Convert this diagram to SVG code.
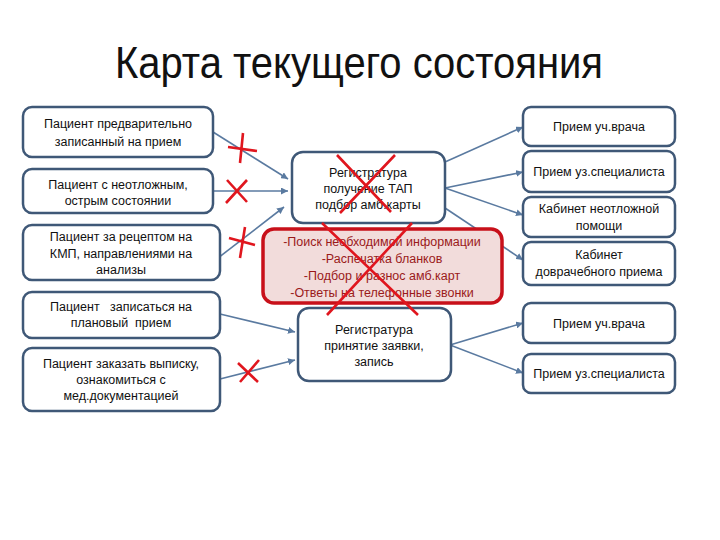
<svg xmlns="http://www.w3.org/2000/svg" width="720" height="540" viewBox="0 0 720 540">
<defs>
<style>
.box{fill:#ffffff;stroke:#3f5877;stroke-width:2.5}
.red{fill:#f2dcdb;stroke:#c8101a;stroke-width:3.5}
.t{font-family:"Liberation Sans",Arial,sans-serif;font-size:12.5px;fill:#111;text-anchor:middle}
.rt{font-family:"Liberation Sans",Arial,sans-serif;font-size:12.5px;fill:#9a1a1a;text-anchor:middle}
.c{stroke:#5a7aa0;stroke-width:1.6;fill:none;marker-end:url(#ah)}
.x{stroke:#e0161e;stroke-width:2.6;fill:none}
</style>
<marker id="ah" viewBox="0 0 10 10" refX="10" refY="5" markerWidth="7" markerHeight="7" markerUnits="userSpaceOnUse" orient="auto">
<path d="M0,0 L10,5 L0,10 z" fill="#5a7aa0"/>
</marker>
</defs>
<rect width="720" height="540" fill="#ffffff"/>
<text x="359" y="78" font-family="'Liberation Sans',Arial,sans-serif" font-size="44" text-anchor="middle" textLength="488" lengthAdjust="spacingAndGlyphs" fill="#111">Карта текущего состояния</text>

<g id="connectors">
<line class="c" x1="213" y1="132" x2="288" y2="179"/>
<line class="c" x1="213" y1="191" x2="288" y2="191"/>
<line class="c" x1="218" y1="258" x2="284" y2="207"/>
<line class="c" x1="220" y1="314" x2="295" y2="332"/>
<line class="c" x1="220" y1="379" x2="295" y2="360"/>
<line class="c" x1="445" y1="162" x2="523" y2="127"/>
<line class="c" x1="445" y1="188" x2="523" y2="172"/>
<line class="c" x1="445" y1="188" x2="523" y2="215"/>
<line class="c" x1="445" y1="208" x2="523" y2="260"/>
<line class="c" x1="450" y1="345" x2="523" y2="323"/>
<line class="c" x1="450" y1="345" x2="523" y2="373"/>
</g>

<g id="left1"><rect class="box" x="23" y="107" width="190" height="50" rx="9"/>
<text class="t" x="118" y="128">Пациент предварительно</text>
<text class="t" x="118" y="146">записанный на прием</text></g>
<g id="left2"><rect class="box" x="23" y="169" width="190" height="44" rx="9"/>
<text class="t" x="118" y="189">Пациент с неотложным,</text>
<text class="t" x="118" y="205">острым состоянии</text></g>
<g id="left3"><rect class="box" x="23" y="225" width="197" height="55" rx="9"/>
<text class="t" x="121" y="241">Пациент за рецептом на</text>
<text class="t" x="121" y="258">КМП, направлениями на</text>
<text class="t" x="121" y="274">анализы</text></g>
<g id="left4"><rect class="box" x="23" y="292" width="197" height="46" rx="9"/>
<text class="t" x="121" y="311" xml:space="preserve">Пациент   записаться на</text>
<text class="t" x="121" y="327" xml:space="preserve">плановый  прием</text></g>
<g id="left5"><rect class="box" x="23" y="348" width="197" height="63" rx="9"/>
<text class="t" x="121" y="368">Пациент заказать выписку,</text>
<text class="t" x="121" y="384">ознакомиться с</text>
<text class="t" x="121" y="400">мед.документацией</text></g>

<g id="reg1"><rect class="box" x="292" y="152" width="153" height="71" rx="11"/>
<text class="t" x="368" y="177">Регистратура</text>
<text class="t" x="368" y="193">получение ТАП</text>
<text class="t" x="368" y="209">подбор амб.карты</text></g>
<g id="tasks"><rect class="red" x="263" y="229" width="239" height="74" rx="11"/>
<text class="rt" x="382" y="246">-Поиск необходимой информации</text>
<text class="rt" x="382" y="263">-Распечатка бланков</text>
<text class="rt" x="382" y="280">-Подбор и разнос амб.карт</text>
<text class="rt" x="382" y="297">-Ответы на телефонные звонки</text></g>
<g id="reg2"><rect class="box" x="298" y="308" width="153" height="73" rx="11"/>
<text class="t" x="374" y="334">Регистратура</text>
<text class="t" x="374" y="350">принятие заявки,</text>
<text class="t" x="374" y="366">запись</text></g>

<g id="right1"><rect class="box" x="523" y="107" width="152" height="39" rx="8"/>
<text class="t" x="599" y="131">Прием уч.врача</text></g>
<g id="right2"><rect class="box" x="523" y="151" width="152" height="41" rx="8"/>
<text class="t" x="599" y="176">Прием уз.специалиста</text></g>
<g id="right3"><rect class="box" x="523" y="197" width="152" height="40" rx="8"/>
<text class="t" x="599" y="213">Кабинет неотложной</text>
<text class="t" x="599" y="230">помощи</text></g>
<g id="right4"><rect class="box" x="523" y="242" width="152" height="43" rx="8"/>
<text class="t" x="599" y="259">Кабинет</text>
<text class="t" x="599" y="276">доврачебного приема</text></g>
<g id="right5"><rect class="box" x="523" y="303" width="152" height="40" rx="8"/>
<text class="t" x="599" y="328">Прием уч.врача</text></g>
<g id="right6"><rect class="box" x="523" y="354" width="152" height="39" rx="8"/>
<text class="t" x="599" y="378">Прием уз.специалиста</text></g>

<g id="crosses">
<path class="x" d="M243,133 L240,163 M228,147 L257,151"/>
<path class="x" d="M227,180 L247,202 M247,180 L226,203"/>
<path class="x" d="M245,227 L240,258 M229,238 L255,245"/>
<path class="x" d="M238,363 L258,382 M259,360 L240,382"/>
<path class="x" d="M337,155 L391,212 M395,155 L340,213"/>
<path class="x" d="M322,223 L418,315 M412,223 L327,315"/>
</g>
</svg>
